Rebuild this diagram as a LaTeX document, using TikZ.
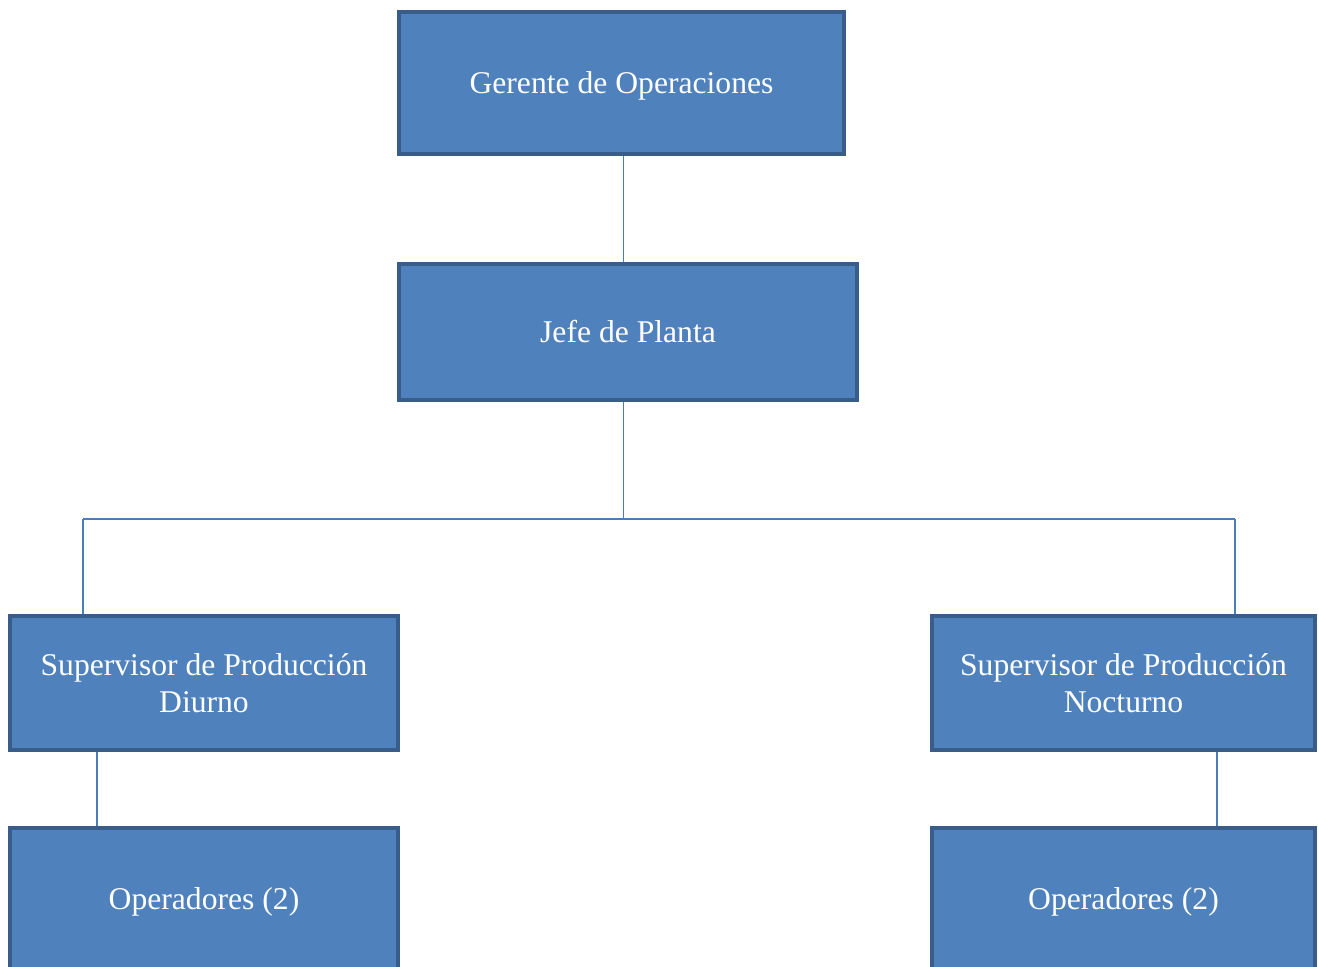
\documentclass[tikz,border=0pt]{standalone}
\usepackage{fontspec}
\setmainfont{Liberation Serif}
\usepackage{xcolor}
\usepackage{tikz}
\usetikzlibrary{positioning, calc}
\definecolor{boxfill}{HTML}{4F81BD}
\definecolor{boxline}{HTML}{385D8A}
\definecolor{linkline}{HTML}{4A7EBB}
\tikzset{every picture/.style={font issue=\fontsize{18}{21}},
         font issue/.style={execute at begin picture={#1\selectfont}},
         orgbox/.style={draw=boxline, fill=boxfill, line width=2.3pt, text=white,
                        align=center, inner sep=0pt},
         lowtext/.style={text depth=0pt},
         link/.style={draw=linkline, line width=1pt}
        }
\begin{document}
\begin{tikzpicture}

\clip (0,0) rectangle (26.38,-19.34);
\useasboundingbox (0,0) rectangle (26.38,-19.34);

%top
\node[orgbox, lowtext, minimum width=8.9cm, minimum height=2.84cm] (gerente) at (12.43,-1.66) {Gerente de Operaciones};
\node[orgbox, minimum width=9.16cm, minimum height=2.72cm] (jefe) at (12.56,-6.64) {Jefe de Planta};

%second row
\node[orgbox, minimum width=7.76cm, minimum height=2.68cm] (supdia) at (4.08,-13.66) {Supervisor de Producción\\Diurno};
\node[orgbox, minimum width=7.66cm, minimum height=2.68cm] (supnoche) at (22.47,-13.66) {Supervisor de Producción\\Nocturno};

%operators
\node[orgbox, lowtext, minimum width=7.76cm, minimum height=2.84cm] (opdia) at (4.08,-17.98) {Operadores (2)};
\node[orgbox, lowtext, minimum width=7.66cm, minimum height=2.84cm] (opnoche) at (22.47,-17.98) {Operadores (2)};

\coordinate (bus) at (12.47,-10.38);
\coordinate (busleft) at (1.66,-10.38);
\coordinate (busright) at (24.70,-10.38);
\coordinate (downleft) at (1.94,0);
\coordinate (downright) at (24.34,0);

\draw[link] (gerente.south -| bus) -- (jefe.north -| bus);
\draw[link] (jefe.south -| bus) -- (bus);
\draw[link] (busleft) -- (busright);
\draw[link] (busleft) -- (supdia.north -| busleft);
\draw[link] (busright) -- (supnoche.north -| busright);
\draw[link] (supdia.south -| downleft) -- (opdia.north -| downleft);
\draw[link] (supnoche.south -| downright) -- (opnoche.north -| downright);

\end{tikzpicture}
\end{document}
